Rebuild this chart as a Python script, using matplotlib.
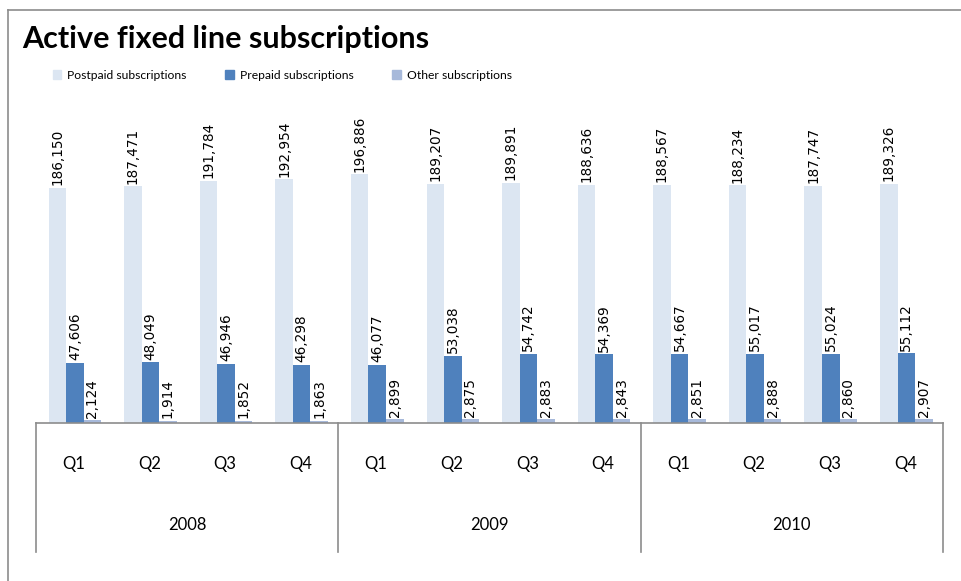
import matplotlib
matplotlib.use("Agg")
import matplotlib.pyplot as plt
from matplotlib.lines import Line2D
import numpy as np

# ------------------------------
# Data
# ------------------------------
years = ["2008", "2009", "2010"]
quarters = ["Q1", "Q2", "Q3", "Q4"]
series_names = ["Postpaid subscriptions", "Prepaid subscriptions", "Other subscriptions"]
postpaid = [186150, 187471, 191784, 192954, 196886, 189207, 189891, 188636,
            188567, 188234, 187747, 189326]
prepaid = [47606, 48049, 46946, 46298, 46077, 53038, 54742, 54369,
           54667, 55017, 55024, 55112]
other = [2124, 1914, 1852, 1863, 2899, 2875, 2883, 2843,
         2851, 2888, 2860, 2907]
colors = ["#DCE6F2", "#4F81BD", "#A7B9DA"]

W, H = 962, 581
fig = plt.figure(figsize=(W / 100, H / 100), dpi=100)

# axes placed in pixel terms
x0, x1 = 36, 943
y_base, y_top = 423, 100
ax = fig.add_axes([x0 / W, (H - y_base) / H, (x1 - x0) / W, (y_base - y_top) / H])

n = len(postpaid)
centers = np.arange(n) + 0.5
bw = 0.232
offsets = [-bw + 0.015, 0.015, bw + 0.015]

# px per unit: 235 px for 186150
ymax = (y_base - y_top) * 186150 / 235
ax.set_xlim(0, n)
ax.set_ylim(0, ymax)

label_font = dict(family="DejaVu Sans", size=9.8)
for vals, off, col in zip([postpaid, prepaid, other], offsets, colors):
    bars = ax.bar(centers + off, vals, width=bw, color=col, edgecolor="none")
    for b, v in zip(bars, vals):
        ax.annotate(f"{v:,}", (b.get_x() + b.get_width() / 2, v),
                    xytext=(0, 2), textcoords="offset points",
                    rotation=90, ha="center", va="bottom", **label_font)

for s in ["top", "right", "left"]:
    ax.spines[s].set_visible(False)
ax.spines["bottom"].set_color("#8C8C8C")
ax.spines["bottom"].set_linewidth(1.2)
ax.set_yticks([])

ax.set_xticks(centers, quarters * len(years), family="Lato", fontsize=12)
ax.tick_params(axis="x", length=0, pad=24)

# group separators and year labels
axh_px = y_base - y_top
sep_bottom = -(552 - y_base) / axh_px
trans = ax.get_xaxis_transform()
for g in range(len(years) + 1):
    ax.add_line(Line2D([g * 4, g * 4], [0, sep_bottom], transform=trans,
                       color="#8C8C8C", lw=1.2, clip_on=False))
for g, yr in enumerate(years):
    ax.text(g * 4 + 2, -(525 - y_base) / axh_px, yr, transform=trans,
            ha="center", va="center", family="Lato", fontsize=12)

# title and legend
fig.text(22 / W, 1 - 39 / H, "Active fixed line subscriptions",
         family="Lato", fontweight="bold", fontsize=22, ha="left", va="center")
handles = [plt.Rectangle((0, 0), 1, 1, color=c) for c in colors]
fig.legend(handles, series_names, loc="center left", bbox_to_anchor=(42 / W, 1 - 75 / H),
           ncol=3, frameon=False, prop=dict(family="Lato", size=8.7),
           handlelength=0.7, handleheight=0.7, handletextpad=0.5, columnspacing=3.2)

# outer chart frame (left and top edges only visible)
fig.add_artist(Line2D([8 / W, 8 / W], [0, 1 - 10 / H], transform=fig.transFigure,
                      color="#8C8C8C", lw=1.2))
fig.add_artist(Line2D([8 / W, 1], [1 - 10 / H, 1 - 10 / H], transform=fig.transFigure,
                      color="#8C8C8C", lw=1.2))

fig.savefig("out.png", dpi=100)
